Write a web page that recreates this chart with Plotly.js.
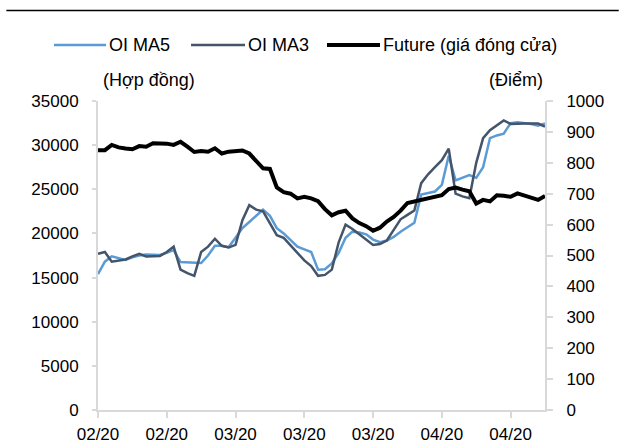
<!DOCTYPE html>
<html>
<head>
<meta charset="utf-8">
<script src="https://cdn.plot.ly/plotly-3.0.1.min.js"></script>
<style>html,body{margin:0;padding:0;background:#fff;}#chart{width:622px;height:443px;}</style>
</head>
<body>
<div id="chart"></div>
<script>
// Date labels for each trading session (month/year)
const dateLabels = [].concat(
  Array(20).fill("02/20"),
  Array(22).fill("03/20"),
  Array(24).fill("04/20")
);
const tickEvery = 10;

const seriesNames = ["OI MA5", "OI MA3", "Future (giá đóng cửa)"];

const oiMA5 = [15400,16800,17400,17200,17000,17300,17500,17600,17600,17550,
  17800,18100,16750,16700,16650,16650,17500,18600,18600,18450,
  19500,20600,21300,22000,22700,22000,20600,20000,19300,18500,
  18200,17900,15900,15950,16600,17800,19500,20200,20100,19900,
  19300,19000,19200,19600,20200,20700,21200,24400,24600,24750,
  25500,28800,26000,26300,26600,26300,27500,30800,31100,31300,
  32500,32600,32500,32400,32200,32450];

const oiMA3 = [17700,17900,16800,16900,17050,17400,17700,17400,17400,17450,
  17900,18500,15900,15500,15200,17900,18500,19400,18600,18400,
  18700,21500,23200,22700,22500,21200,19800,19500,18700,17800,
  16950,16300,15200,15300,15900,19000,21000,20500,19900,19300,
  18700,18800,19200,20400,21600,22100,22600,25700,26700,27500,
  28300,29600,24500,24200,24000,28000,30800,31700,32300,32800,
  32400,32450,32450,32450,32450,32100];

const future = [841,841,858,850,846,844,854,852,863,863,
  862,858,868,852,835,838,836,847,830,836,
  838,840,830,808,782,780,720,705,700,685,
  690,685,676,650,630,640,645,620,605,595,
  580,590,610,625,645,670,675,680,683,688,
  695,715,720,713,708,668,680,675,695,693,
  690,701,695,688,680,693];

const idx = dateLabels.map((_, i) => i);
const tickvals = idx.filter(i => i % tickEvery === 0);
const ticktext = tickvals.map(i => dateLabels[i]);

const fam = "Liberation Sans, Arial, sans-serif";
const font = {family: fam, size: 17, color: "#000"};
const bigFont = {family: fam, size: 18, color: "#000"};
const axisGray = "#d9d9d9";
const styles = [
  {color: "#5B9BD5", width: 2.5},
  {color: "#44546A", width: 2.5},
  {color: "#000000", width: 4}
];

const traces = [
  {x: idx, y: oiMA5, name: seriesNames[0], type: "scatter", mode: "lines", line: styles[0], yaxis: "y"},
  {x: idx, y: oiMA3, name: seriesNames[1], type: "scatter", mode: "lines", line: styles[1], yaxis: "y"},
  {x: idx, y: future, name: seriesNames[2], type: "scatter", mode: "lines", line: styles[2], yaxis: "y2"}
];

// Custom legend (line samples + labels), paper coordinates
const legY = 1.181;
const legLines = [[-0.0984, 0.0179], [0.2081, 0.3289], [0.5123, 0.6309]];
const legShapes = legLines.map((p, i) => ({
  type: "line", xref: "paper", yref: "paper", x0: p[0], x1: p[1], y0: legY, y1: legY,
  line: {color: styles[i].color, width: styles[i].width}
}));
const legText = legLines.map((p, i) => ({
  text: seriesNames[i], xref: "paper", yref: "paper", x: p[1] + 0.002, y: legY,
  xanchor: "left", yanchor: "middle", showarrow: false, font: bigFont
}));

const layout = {
  width: 622, height: 443,
  margin: {l: 98, r: 77, t: 101, b: 33},
  paper_bgcolor: "#fff", plot_bgcolor: "#fff",
  font: font,
  showlegend: false,
  xaxis: {range: [0, dateLabels.length - 1], tickvals: tickvals, ticktext: ticktext,
          showgrid: false, zeroline: false, showline: true, linecolor: axisGray, linewidth: 2,
          ticks: "outside", ticklen: 6, tickcolor: axisGray, tickwidth: 2, tickfont: font,
          ticklabelstandoff: 2, fixedrange: true},
  yaxis: {range: [0, 35000], dtick: 5000, showgrid: false, zeroline: false,
          showline: true, linecolor: axisGray, linewidth: 2,
          ticks: "outside", ticklen: 4, tickcolor: axisGray, tickwidth: 2,
          ticklabelstandoff: 10, tickfont: font, tickformat: "d"},
  yaxis2: {range: [0, 1000], dtick: 100, overlaying: "y", side: "right", showgrid: false,
           zeroline: false, showline: true, linecolor: axisGray, linewidth: 2,
           ticks: "outside", ticklen: 6, tickcolor: axisGray, tickwidth: 2,
           ticklabelstandoff: 10, tickfont: font},
  annotations: [
    {text: "(Hợp đồng)", xref: "paper", yref: "paper", x: 0.113, y: 1.068,
     xanchor: "center", yanchor: "middle", showarrow: false, font: bigFont},
    {text: "(Điểm)", xref: "paper", yref: "paper", x: 0.935, y: 1.068,
     xanchor: "center", yanchor: "middle", showarrow: false, font: bigFont}
  ].concat(legText),
  shapes: [
    {type: "line", xref: "paper", yref: "paper", x0: -0.205, x1: 1.165, y0: 1.293, y1: 1.293,
     line: {color: "#000", width: 1.5}}
  ].concat(legShapes)
};

Plotly.newPlot("chart", traces, layout, {displayModeBar: false, staticPlot: true});
</script>
</body>
</html>
